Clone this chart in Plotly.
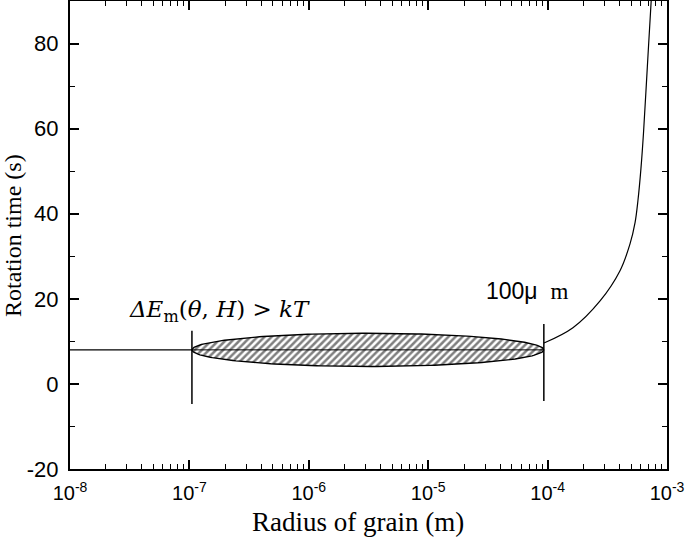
import numpy as np
import plotly.graph_objects as go

# ---- data ----
flat_x = [1e-8, 1.05e-7]
flat_y = [8, 8]

curve_x = [9.33e-5, 1.63e-4, 2.75e-4, 4.04e-4, 4.90e-4, 5.40e-4, 5.71e-4, 6.05e-4, 6.35e-4, 6.84e-4, 7.35e-4, 7.5e-4]
curve_y = [9.6, 13.2, 19.5, 26.6, 32.9, 37.9, 43.1, 50.6, 58.8, 74.4, 89.4, 93]

vline1_x = [1.05e-7, 1.05e-7]
vline1_y = [-4.7, 12.5]
vline2_x = [9.3e-5, 9.3e-5]
vline2_y = [-4.0, 14.1]

# ellipse (hatched band): log-x extent and y centre / half height
ell_left, ell_right = 1.05e-7, 9.3e-5
ell_yc, ell_half = 8.0, 3.9

mid_x = [1.05e-7, 9.3e-5]
mid_y = [8, 8]

x_tickvals = [1e-8, 1e-7, 1e-6, 1e-5, 1e-4, 1e-3]
x_ticktext = ["10<sup>-8</sup>", "10<sup>-7</sup>", "10<sup>-6</sup>", "10<sup>-5</sup>", "10<sup>-4</sup>", "10<sup>-3</sup>"]
y_tickvals = [-20, 0, 20, 40, 60, 80]
y_ticktext = ["-20", "0", "20", "40", "60", "80"]

# ---- build ellipse outline ----
t = np.linspace(0, 2 * np.pi, 240)
lc = (np.log10(ell_left) + np.log10(ell_right)) / 2
la = (np.log10(ell_right) - np.log10(ell_left)) / 2
ex = 10 ** (lc + la * np.cos(t))
ey = ell_yc + ell_half * np.sin(t)

fig = go.Figure()
fig.add_trace(go.Scatter(
    x=ex, y=ey, mode="lines", fill="toself",
    fillcolor="white",
    fillpattern=dict(shape="/", fgcolor="black", bgcolor="white", size=5, solidity=0.5),
    line=dict(color="black", width=1.4), showlegend=False, hoverinfo="skip"))
fig.add_trace(go.Scatter(x=mid_x, y=mid_y, mode="lines",
                         line=dict(color="black", width=1), showlegend=False))
fig.add_trace(go.Scatter(x=flat_x, y=flat_y, mode="lines",
                         line=dict(color="black", width=1.2), showlegend=False))
fig.add_trace(go.Scatter(x=curve_x, y=curve_y, mode="lines", line_shape="spline",
                         line=dict(color="black", width=1.2, smoothing=1.0), showlegend=False))
fig.add_trace(go.Scatter(x=vline1_x, y=vline1_y, mode="lines",
                         line=dict(color="black", width=1.5), showlegend=False))
fig.add_trace(go.Scatter(x=vline2_x, y=vline2_y, mode="lines",
                         line=dict(color="black", width=1.5), showlegend=False))

minor_x = [m * 10.0 ** k for k in range(-8, -3) for m in range(2, 10)]

fig.update_xaxes(
    type="log", range=[-8, -3], tickmode="array", tickvals=x_tickvals, ticktext=x_ticktext,
    ticks="inside", ticklen=9, tickwidth=1.5, tickcolor="black",
    showline=True, linecolor="black", linewidth=2, mirror="allticks",
    showgrid=False, zeroline=False, automargin=False,
    tickfont=dict(family="Liberation Sans", size=20, color="black"),
    ticklabelstandoff=5,
    minor=dict(tickmode="array", tickvals=minor_x, ticks="inside", ticklen=5,
               tickwidth=1.2, tickcolor="black", showgrid=False),
)
fig.update_yaxes(
    range=[-20, 90], tickmode="array", tickvals=y_tickvals, ticktext=y_ticktext,
    ticks="inside", ticklen=9, tickwidth=1.5, tickcolor="black",
    showline=True, linecolor="black", linewidth=2, mirror="allticks",
    showgrid=False, zeroline=False, automargin=False,
    tickfont=dict(family="Liberation Sans", size=22, color="black"),
    ticklabelstandoff=5,
    minor=dict(dtick=10, ticks="inside", ticklen=5, tickwidth=1.2, tickcolor="black", showgrid=False),
)

fig.add_annotation(
    x=-6.744, y=17.2, xref="x", yref="y", showarrow=False,
    text="<i>ΔE</i><sub>m</sub>(<i>θ</i>, <i>H</i>) > <i>kT</i>",
    font=dict(family="DejaVu Serif", size=23, color="black"))
fig.add_annotation(
    x=-4.17, y=21.8, xref="x", yref="y", showarrow=False,
    text="100μ&nbsp;&nbsp;<span style='font-family:Liberation Serif'>m</span>",
    font=dict(family="Liberation Sans", size=23, color="black"))

fig.add_annotation(
    x=0.482, y=-0.113, xref="paper", yref="paper", showarrow=False,
    xanchor="center", yanchor="middle",
    text="Radius of grain (m)", font=dict(family="Liberation Serif", size=27, color="black"))
fig.add_annotation(
    x=-0.0955, y=0.5, xref="paper", yref="paper", showarrow=False,
    xanchor="center", yanchor="middle", textangle=-90,
    text="Rotation time (s)", font=dict(family="Liberation Serif", size=24, color="black"))

fig.update_layout(
    width=685, height=541,
    margin=dict(l=70, r=18, t=1, b=72),
    plot_bgcolor="white", paper_bgcolor="white",
    showlegend=False,
)

fig.write_html("out.html", config={"displayModeBar": False},
               post_script="document.body.style.margin='0';document.body.style.overflow='hidden';")
